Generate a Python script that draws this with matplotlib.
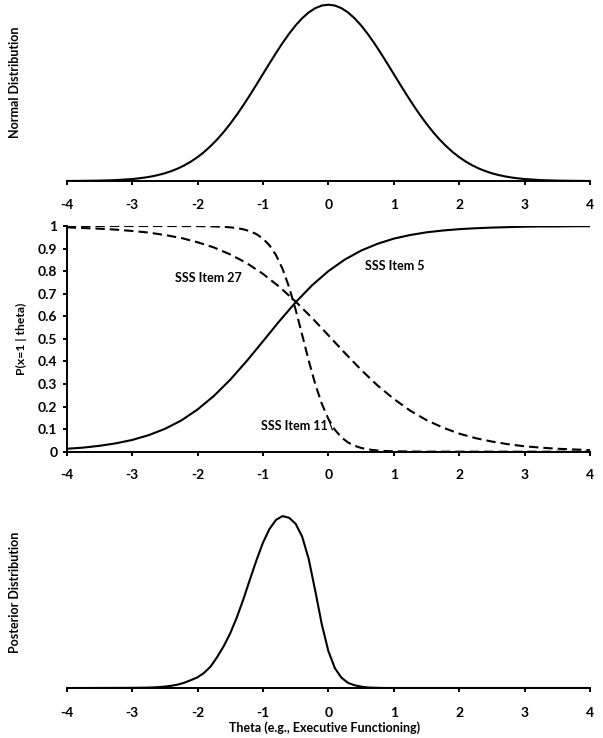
import numpy as np
import matplotlib
matplotlib.use("Agg")
import matplotlib.pyplot as plt

plt.rcParams['font.family'] = ['Lato', 'DejaVu Sans']
plt.rcParams['font.weight'] = 'bold'
plt.rcParams['axes.unicode_minus'] = False

# top panel: prior (normal) density
theta_norm = [-4, -3.75, -3.5, -3.25,
              -3.0, -2.9, -2.8, -2.7, -2.6, -2.5, -2.4, -2.3, -2.2, -2.1, -2.0,
              -1.9, -1.8, -1.7, -1.6, -1.5, -1.4, -1.3, -1.2, -1.1, -1.0,
              -0.9, -0.8, -0.7, -0.6, -0.5, -0.4, -0.3, -0.2, -0.1, 0.0,
              0.1, 0.2, 0.3, 0.4, 0.5, 0.6, 0.7, 0.8, 0.9, 1.0,
              1.1, 1.2, 1.3, 1.4, 1.5, 1.6, 1.7, 1.8, 1.9, 2.0,
              2.1, 2.2, 2.3, 2.4, 2.5, 2.6, 2.7, 2.8, 2.9, 3.0,
              3.25, 3.5, 3.75, 4]
normal_vals = [0.0001, 0.0004, 0.0009, 0.0020,
               0.0044, 0.0060, 0.0079, 0.0104, 0.0136, 0.0175, 0.0224, 0.0283, 0.0355, 0.0440, 0.0540,
               0.0656, 0.0790, 0.0940, 0.1109, 0.1295, 0.1497, 0.1714, 0.1942, 0.2179, 0.2420,
               0.2661, 0.2897, 0.3123, 0.3332, 0.3521, 0.3683, 0.3814, 0.3910, 0.3970, 0.3989,
               0.3970, 0.3910, 0.3814, 0.3683, 0.3521, 0.3332, 0.3123, 0.2897, 0.2661, 0.2420,
               0.2179, 0.1942, 0.1714, 0.1497, 0.1295, 0.1109, 0.0940, 0.0790, 0.0656, 0.0540,
               0.0440, 0.0355, 0.0283, 0.0224, 0.0175, 0.0136, 0.0104, 0.0079, 0.0060, 0.0044,
               0.0020, 0.0009, 0.0004, 0.0001]

# middle panel: item curves
theta_q = [-4, -3.75, -3.5, -3.25, -3, -2.75, -2.5, -2.25, -2, -1.75, -1.5, -1.25, -1,
           -0.75, -0.5, -0.25, 0, 0.25, 0.5, 0.75, 1, 1.25, 1.5, 1.75, 2, 2.25, 2.5,
           2.75, 3, 3.25, 3.5, 3.75, 4]
item5 = [0.013, 0.018, 0.026, 0.037, 0.052, 0.073, 0.101, 0.138, 0.187, 0.247, 0.319,
         0.401, 0.489, 0.578, 0.662, 0.737, 0.800, 0.851, 0.891, 0.921, 0.944, 0.960,
         0.972, 0.980, 0.986, 0.990, 0.993, 0.995, 0.997, 0.998, 0.998, 0.999, 0.999]
item27 = [0.994, 0.991, 0.988, 0.984, 0.978, 0.971, 0.960, 0.947, 0.928, 0.905, 0.874,
          0.836, 0.788, 0.731, 0.665, 0.593, 0.516, 0.438, 0.363, 0.294, 0.234, 0.182,
          0.140, 0.107, 0.080, 0.060, 0.045, 0.033, 0.024, 0.018, 0.013, 0.010, 0.007]

theta_11 = [-4, -3, -2.5, -2, -1.9, -1.8, -1.7, -1.6, -1.5, -1.4, -1.3, -1.2, -1.1, -1.0,
            -0.9, -0.8, -0.7, -0.6, -0.5, -0.4, -0.3, -0.2, -0.1, 0.0, 0.1, 0.2, 0.3,
            0.4, 0.5, 0.6, 0.7, 0.8, 0.9, 1.0, 1.5, 2, 3, 4]
item11 = [1.0, 1.0, 0.9999, 0.9994, 0.9991, 0.9985, 0.9976, 0.9963, 0.9941, 0.9907,
          0.9854, 0.9770, 0.9641, 0.9442, 0.9144, 0.8709, 0.8098, 0.7289, 0.6292,
          0.5172, 0.4035, 0.2992, 0.2123, 0.1454, 0.0970, 0.0635, 0.0410, 0.0263,
          0.0168, 0.0107, 0.0068, 0.0043, 0.0027, 0.0017, 0.0002, 0.0001, 0.0, 0.0]

# bottom panel: posterior density (relative to its peak)
theta_post = [-4, -3.5, -3.0, -2.9, -2.8, -2.7, -2.6, -2.5, -2.4, -2.3, -2.2, -2.1, -2.0,
              -1.9, -1.8, -1.7, -1.6, -1.5, -1.4, -1.3, -1.2, -1.1, -1.0, -0.9, -0.8,
              -0.7, -0.6, -0.5, -0.4, -0.3, -0.2, -0.1, 0.0, 0.1, 0.2, 0.3, 0.4, 0.5,
              0.6, 0.7, 0.8, 0.9, 1.0, 2.0, 3.0, 4.0]
posterior = [0.0, 0.0003, 0.001, 0.0015, 0.002, 0.003, 0.005, 0.008, 0.013, 0.020, 0.031,
             0.046, 0.062, 0.088, 0.125, 0.180, 0.243, 0.318, 0.410, 0.515, 0.630,
             0.742, 0.845, 0.925, 0.978, 1.000, 0.990, 0.955, 0.880, 0.750, 0.565,
             0.370, 0.215, 0.115, 0.060, 0.030, 0.016, 0.008, 0.003, 0.0015, 0.0005,
             0.0, 0.0, 0.0, 0.0, 0.0]

x_ticks = [-4, -3, -2, -1, 0, 1, 2, 3, 4]
x_labels = ['-4', '-3', '-2', '-1', '0', '1', '2', '3', '4']
y_ticks = [0, 0.1, 0.2, 0.3, 0.4, 0.5, 0.6, 0.7, 0.8, 0.9, 1]
y_labels = ['0', '0.1', '0.2', '0.3', '0.4', '0.5', '0.6', '0.7', '0.8', '0.9', '1']

W, H = 603, 738
fig = plt.figure(figsize=(W / 100, H / 100), dpi=100)

def rect(x0, x1, ytop, ybot):
    return [x0 / W, 1 - ybot / H, (x1 - x0) / W, (ybot - ytop) / H]

TICK = 10
LAB = 9
LW = 1.5
SP = 1.4
dash = (4.5, 2.4)
X0, X1 = 66.7, 590

def style_x(ax, pad):
    ax.set_xlim(-4, 4)
    ax.set_xticks(x_ticks)
    ax.set_xticklabels(x_labels, fontsize=TICK, fontweight='bold')
    ax.tick_params(axis='x', direction='out', length=3, width=SP, pad=pad)
    for s in ['top', 'right', 'left']:
        ax.spines[s].set_visible(False)
    ax.spines['bottom'].set_linewidth(SP)
    ax.set_yticks([])

def ylab(x, y, s, size):
    fig.text(x / W, 1 - y / H, s, rotation=90, ha='center', va='center',
             fontsize=size, fontweight='bold')

# top
ax1 = fig.add_axes(rect(X0, X1, 2, 181))
ax1.plot(theta_norm, normal_vals, color='black', lw=LW)
ax1.set_ylim(0, 0.405)
style_x(ax1, 9.8)
ylab(15, 82, 'Normal Distribution', LAB)

# middle
ax2 = fig.add_axes(rect(X0, X1, 226, 451.7))
ax2.plot(theta_q, item5, color='black', lw=LW)
ax2.plot(theta_q, item27, color='black', lw=LW, dashes=dash)
ax2.plot(theta_11, item11, color='black', lw=LW, dashes=dash)
ax2.set_ylim(0, 1)
style_x(ax2, 9.8)
ax2.spines['left'].set_visible(True)
ax2.spines['left'].set_linewidth(SP)
ax2.set_yticks(y_ticks)
ax2.set_yticklabels(y_labels, fontsize=TICK, fontweight='bold')
ax2.tick_params(axis='y', direction='out', length=3, width=SP, pad=3.7)
ylab(21.7, 339, 'P(x=1 | theta)', 8.7)
ax2.text(1.02, 0.824, 'SSS Item 5', ha='center', va='center', fontsize=LAB, fontweight='bold')
ax2.text(-1.835, 0.768, 'SSS Item 27', ha='center', va='center', fontsize=LAB, fontweight='bold')
ax2.text(0.08, 0.118, 'SSS Item 11\\', ha='right', va='center', fontsize=LAB, fontweight='bold')

# bottom
ax3 = fig.add_axes(rect(X0, X1, 508, 688))
ax3.plot(theta_post, posterior, color='black', lw=LW)
ax3.set_ylim(0, 1.047)
style_x(ax3, 10.5)
fig.text(324.5 / W, 1 - 728 / H, 'Theta (e.g., Executive Functioning)', ha='center',
         va='center', fontsize=LAB, fontweight='bold')
ylab(15, 592, 'Posterior Distribution', LAB)

plt.savefig('out.png', dpi=100)
